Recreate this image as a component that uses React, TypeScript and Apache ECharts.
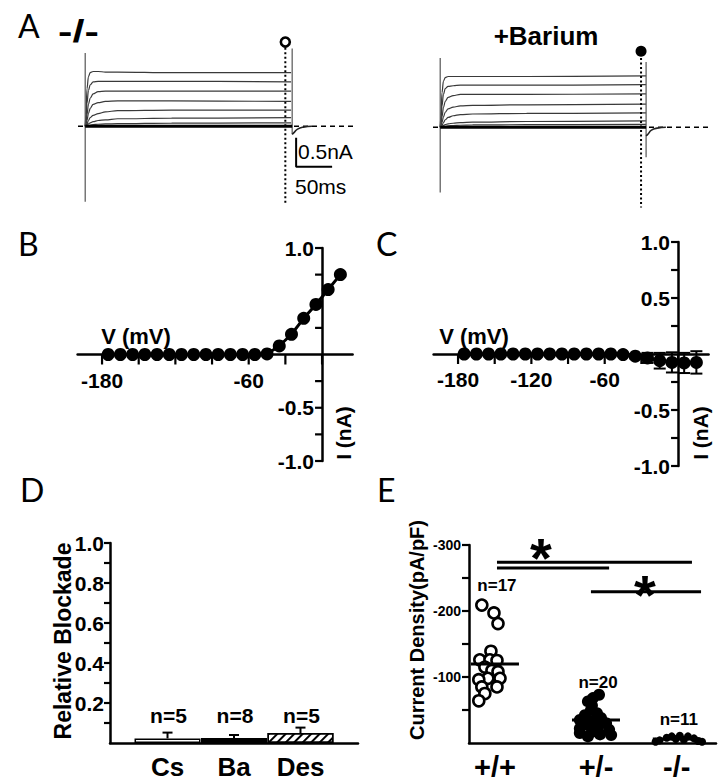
import React, { useEffect, useRef } from "react";
import * as echarts from "echarts";

// ---------- Panel A : current traces (ms, nA) ----------
const traceTimes = [0, 1, 2.5, 4.5, 7, 11, 18, 28, 45, 120, 286];
const tracesKO = [
  [0, 0.2, 0.65, 0.86, 0.93, 0.95, 0.95, 0.94, 0.94, 0.93, 0.93],
  [0, 0.1, 0.4, 0.62, 0.72, 0.77, 0.78, 0.78, 0.78, 0.78, 0.77],
  [0, 0.05, 0.2, 0.38, 0.49, 0.56, 0.6, 0.61, 0.61, 0.61, 0.61],
  [0, 0.03, 0.1, 0.22, 0.31, 0.38, 0.41, 0.43, 0.44, 0.44, 0.43],
  [0, 0.01, 0.04, 0.1, 0.15, 0.19, 0.22, 0.25, 0.27, 0.28, 0.28],
  [0, 0.005, 0.02, 0.04, 0.06, 0.08, 0.1, 0.11, 0.13, 0.14, 0.15],
  [0, 0.002, 0.008, 0.015, 0.02, 0.03, 0.035, 0.04, 0.045, 0.055, 0.06],
];
const tracesBa = [
  [0, 0.2, 0.6, 0.8, 0.86, 0.88, 0.88, 0.88, 0.88, 0.88, 0.89],
  [0, 0.1, 0.37, 0.57, 0.67, 0.71, 0.72, 0.73, 0.73, 0.73, 0.74],
  [0, 0.05, 0.18, 0.34, 0.45, 0.52, 0.55, 0.57, 0.57, 0.57, 0.58],
  [0, 0.03, 0.08, 0.18, 0.26, 0.32, 0.35, 0.37, 0.38, 0.39, 0.4],
  [0, 0.01, 0.03, 0.08, 0.13, 0.17, 0.2, 0.22, 0.23, 0.24, 0.25],
  [0, 0.005, 0.015, 0.03, 0.045, 0.06, 0.07, 0.08, 0.09, 0.1, 0.11],
  [0, 0.002, 0.006, 0.012, 0.018, 0.025, 0.03, 0.035, 0.04, 0.045, 0.05],
];
const tailTimes = [0, 2.5, 7.5, 15.5, 27.5];
const tailKO = [-0.14, -0.11, -0.05, -0.015, 0];
const tailBa = [-0.15, -0.12, -0.05, -0.015, 0];
const pulseEnd = [287.5, 286];
const startTransient = [[1.27, -1.31], [1.2, -1.13]];
const endTransient = [[1.35, -0.14], [1.13, -0.52]];
const probeTime = [278, 279];
const probeLevel = [1.46, 1.32];
const probeSpan = [[1.36, -1.37], [1.2, -1.39]];
const scaleBarT = [293, 343];
const scaleBarI = [-0.2, -0.7];

// ---------- Panels B, C : I-V ----------
const voltages = [-175, -165, -155, -145, -135, -125, -115, -105, -95, -85, -75, -65, -55, -45, -35, -25, -15, -5, 5, 15];
const currentB = [0, 0, 0, 0, 0, 0, 0, 0, 0, 0, 0, 0, 0, 0.005, 0.08, 0.19, 0.34, 0.47, 0.61, 0.75];
const currentC = [0, 0, 0, 0, 0, 0, 0, 0, 0, 0, 0, 0, 0, -0.005, -0.02, -0.035, -0.06, -0.075, -0.08, -0.075];
const semC = [0.005, 0.005, 0.005, 0.005, 0.005, 0.005, 0.005, 0.005, 0.005, 0.005, 0.005, 0.005, 0.005, 0.01, 0.02, 0.045, 0.07, 0.09, 0.09, 0.1];
const ivTickRange = [-180, 0];
const ivTickStep = 30;
const ivXTickVals = [-180, -150, -120, -90, -60, -30, 0];
const ivYTickVals = [-1, -0.75, -0.5, -0.25, 0.25, 0.5, 0.75, 1];
const ivLabelsB = [-180, -60];
const ivLabelsC = [-180, -120, -60];
const ivYLabelsB = [1, -0.5, -1];
const ivYLabelsC = [1, 0.5, -0.5, -1];
const ivXRange = [-200, 25];
const ivYRange = [-1, 1];

// ---------- Panel D : relative blockade ----------
const blockCats = ["Cs", "Ba", "Des"];
const blockPos = [1, 2, 3];
const blockMean = [0.023, 0.025, 0.05];
const blockSem = [0.029, 0.015, 0.027];
const blockN = [5, 8, 5];
const blockNLabelY = 0.14;
const blockXRange = [0.135, 3.865];
const blockYTickVals = [0.1, 0.2, 0.3, 0.4, 0.5, 0.6, 0.7, 0.8, 0.9, 1.0];

// ---------- Panel E : current density ----------
const genotypes = ["+/+", "+/-", "-/-"];
const genoPos = [1, 2, 2.8];
const genoN = [17, 20, 11];
const nLabelE = [-239, -92, -35];
const densWT = [-209, -197, -181, -139, -126, -126, -125, -115, -110, -108, -98, -98, -96, -85, -85, -75, -64];
const jitWT = [-0.13, -0.01, 0.03, -0.04, -0.15, -0.05, 0.02, -0.1, -0.03, 0.03, -0.07, 0.05, -0.16, -0.13, 0.02, -0.1, -0.16];
const densHet = [-73, -68, -63, -57, -50, -45, -42, -38, -35, -33, -30, -28, -25, -22, -20, -17, -15, -13, -12, -10];
const jitHet = [0.03, -0.03, -0.08, -0.04, -0.05, 0.01, -0.11, 0.05, -0.16, -0.03, 0.1, -0.09, 0.02, -0.16, 0.13, -0.04, -0.16, 0.04, 0.15, -0.08];
const densKO = [-11, -10, -10, -8, -7, -6, -5, -4, -3, -2, -2];
const jitKO = [0.03, -0.05, 0.11, -0.1, 0.17, -0.01, 0.07, -0.17, 0.21, -0.21, 0.25];
const densXRange = [0.743, 3.188];
const densYTickVals = [-300, -250, -200, -150, -100, -50];
const sigLines = [[1.02, 2.95, -274], [1.02, 2.13, -265], [1.95, 3.04, -229]];
const sigStars = [[1.455, -298], [2.485, -242]];

const FONT = '"Liberation Sans", Arial, sans-serif';
const LETTER = 'Lato, "Open Sans", sans-serif';

const gridB = { left: 77.6, top: 248, width: 275, height: 213 };
const gridC = { left: 433.6, top: 242, width: 275, height: 224 };

function mean(a: number[]) {
  return a.reduce((s, v) => s + v, 0) / a.length;
}
function near(list: number[], v: number) {
  return list.some((x) => Math.abs(x - v) < 1e-6);
}

// ticks drawn from the axis scales (x ticks hang down, y ticks point left)
function tickSeries(axisIdx: number, values: number[], dir: "x" | "y", anchor: number, len: number) {
  return {
    type: "custom", xAxisIndex: axisIdx, yAxisIndex: axisIdx, silent: true, z: 3,
    data: values.map((v) => (dir === "x" ? [v, anchor] : [anchor, v])),
    encode: { x: 0, y: 1 },
    renderItem: (params: any, api: any) => {
      const p = api.coord([api.value(0), api.value(1)]);
      const shape = dir === "x"
        ? { x1: p[0], y1: p[1], x2: p[0], y2: p[1] + len }
        : { x1: p[0] - len, y1: p[1], x2: p[0], y2: p[1] };
      return { type: "line", shape, style: { stroke: "#000", lineWidth: 2.2 } };
    },
  };
}

function buildOption() {
  const axisLine = { show: true, onZero: false, lineStyle: { color: "#000", width: 2.5 } };
  const labelBase = { show: true, color: "#000", fontFamily: FONT, fontWeight: "bold" };
  const hiddenX = (g: number) => ({ type: "value", gridIndex: g, min: -10, max: 372, show: false });
  const hiddenY = (g: number, range = [-1.4, 1.6]) => ({ type: "value", gridIndex: g, min: range[0], max: range[1], show: false });

  // I-V axes cross at the origin: shift them from the grid edges
  const pxPerMv = (g: any) => g.width / (ivXRange[1] - ivXRange[0]);
  const zeroOffsetX = (g: any) => (0 - ivXRange[0]) * pxPerMv(g);
  const zeroOffsetY = (g: any) => g.height * (0 - ivYRange[0]) / (ivYRange[1] - ivYRange[0]);
  const tickGrid = (g: any) => ({
    left: g.left + (ivTickRange[0] - ivXRange[0]) * pxPerMv(g),
    top: g.top,
    width: (ivTickRange[1] - ivTickRange[0]) * pxPerMv(g),
    height: g.height,
  });

  const ivXLine = (gi: number, g: any) => ({
    type: "value", gridIndex: gi, min: ivXRange[0], max: ivXRange[1],
    position: "bottom", offset: -zeroOffsetY(g),
    axisLine, axisTick: { show: false }, axisLabel: { show: false }, splitLine: { show: false },
  });
  const ivXLabels = (gi: number, g: any, labels: number[]) => ({
    type: "value", gridIndex: gi, min: ivTickRange[0], max: ivTickRange[1], interval: ivTickStep,
    position: "bottom", offset: -zeroOffsetY(g),
    axisLine: { show: false }, axisTick: { show: false },
    axisLabel: { ...labelBase, margin: 15, fontSize: 21, formatter: (v: number) => (near(labels, v) ? String(v) : "") },
    splitLine: { show: false },
  });
  const ivY = (gi: number, g: any, labels: number[]) => ({
    type: "value", gridIndex: gi, min: ivYRange[0], max: ivYRange[1], interval: 0.5,
    position: "left", offset: -zeroOffsetX(g),
    axisLine, axisTick: { show: false },
    axisLabel: { ...labelBase, margin: 8, fontSize: 21, formatter: (v: number) => (near(labels, v) ? v.toFixed(1) : "") },
    splitLine: { show: false },
  });

  const series: any[] = [];
  const lineBase = { type: "line", showSymbol: false, symbol: "none", silent: true };

  // ---- Panel A
  [tracesKO, tracesBa].forEach((traces, p) => {
    const ax = { xAxisIndex: p, yAxisIndex: p };
    series.push({ ...lineBase, ...ax, data: [[-10, 0], [372, 0]], lineStyle: { color: "#000", width: 1.6, type: [5, 4] }, z: 2 });
    traces.forEach((tr) => {
      series.push({
        ...lineBase, ...ax,
        data: traceTimes.map((t, i) => [t, tr[i]]),
        smooth: 0.35, smoothMonotone: "x",
        lineStyle: { color: "#3a3a3a", width: 1.2 }, z: 3,
      });
    });
    series.push({ ...lineBase, ...ax, data: [[0, 0], [pulseEnd[p], 0]], lineStyle: { color: "#000", width: 2.8 }, z: 4 });
    series.push({ ...lineBase, ...ax, data: [[0, startTransient[p][0]], [0, startTransient[p][1]]], lineStyle: { color: "#555", width: 1.2 }, z: 3 });
    series.push({ ...lineBase, ...ax, data: [[pulseEnd[p], endTransient[p][0]], [pulseEnd[p], endTransient[p][1]]], lineStyle: { color: "#555", width: 1.2 }, z: 3 });
    const tail = p === 0 ? tailKO : tailBa;
    series.push({ ...lineBase, ...ax, data: tailTimes.map((d, i) => [pulseEnd[p] + d, tail[i]]), smooth: 0.5, lineStyle: { color: "#222", width: 1.6 }, z: 4 });
    series.push({ ...lineBase, ...ax, data: [[probeTime[p], probeSpan[p][0]], [probeTime[p], probeSpan[p][1]]], lineStyle: { color: "#000", width: 2, type: [2, 2.5] }, z: 5 });
    series.push({
      type: "scatter", ...ax, silent: true,
      data: [[probeTime[p], probeLevel[p]]],
      symbol: "circle",
      symbolSize: p === 0 ? 9 : 11,
      itemStyle: p === 0 ? { color: "#fff", borderColor: "#000", borderWidth: 2.6, opacity: 1 } : { color: "#000", opacity: 1 },
      z: 6,
    });
  });
  series.push({
    ...lineBase, xAxisIndex: 0, yAxisIndex: 0,
    data: [[scaleBarT[0], scaleBarI[0]], [scaleBarT[0], scaleBarI[1]], [scaleBarT[1], scaleBarI[1]]],
    lineStyle: { color: "#000", width: 2 }, z: 5,
  });

  // ---- Panels B & C ticks
  series.push(tickSeries(2, ivXTickVals, "x", 0, 10));
  series.push(tickSeries(2, ivYTickVals, "y", 0, 7));
  series.push(tickSeries(3, ivXTickVals, "x", 0, 10));
  series.push(tickSeries(3, ivYTickVals, "y", 0, 7));

  // ---- Panel B
  series.push({
    type: "line", xAxisIndex: 2, yAxisIndex: 2,
    data: voltages.map((v, i) => [v, currentB[i]]),
    symbol: "circle", symbolSize: 13, showSymbol: true,
    itemStyle: { color: "#000" }, lineStyle: { color: "#000", width: 3 }, z: 5,
  });

  // ---- Panel C
  series.push({
    type: "custom", xAxisIndex: 3, yAxisIndex: 3,
    data: voltages.map((v, i) => [v, currentC[i], semC[i]]),
    encode: { x: 0, y: 1 },
    renderItem: (params: any, api: any) => {
      const x = api.value(0), y = api.value(1), e = api.value(2);
      const t = api.coord([x, y + e]);
      const b = api.coord([x, y - e]);
      const hw = 6;
      const st = { stroke: "#000", lineWidth: 2 };
      return {
        type: "group",
        children: [
          { type: "line", shape: { x1: t[0], y1: t[1], x2: b[0], y2: b[1] }, style: st },
          { type: "line", shape: { x1: t[0] - hw, y1: t[1], x2: t[0] + hw, y2: t[1] }, style: st },
          { type: "line", shape: { x1: b[0] - hw, y1: b[1], x2: b[0] + hw, y2: b[1] }, style: st },
        ],
      };
    },
    z: 4,
  });
  series.push({
    type: "line", xAxisIndex: 3, yAxisIndex: 3,
    data: voltages.map((v, i) => [v, currentC[i]]),
    symbol: "circle", symbolSize: 13, showSymbol: true,
    itemStyle: { color: "#000" }, lineStyle: { color: "#000", width: 3 }, z: 5,
  });

  // ---- Panel D
  const barStyles: Record<string, any> = {
    Cs: { color: "#fff", borderColor: "#000", borderWidth: 1.5 },
    Ba: { color: "#000", borderColor: "#000", borderWidth: 1.5 },
    Des: {
      color: "#fff", borderColor: "#000", borderWidth: 1.5,
      decal: { symbol: "rect", symbolSize: 1, dashArrayX: [1, 0], dashArrayY: [1.6, 3.2], rotation: -Math.PI / 4, color: "#000", backgroundColor: "#fff" },
    },
  };
  series.push(tickSeries(6, blockYTickVals, "y", blockXRange[0], 6));
  series.push({
    type: "bar", xAxisIndex: 6, yAxisIndex: 6, barWidth: 66,
    data: blockCats.map((c, i) => ({ value: [blockPos[i], blockMean[i]], itemStyle: barStyles[c] })),
    z: 3,
  });
  series.push({
    type: "custom", xAxisIndex: 6, yAxisIndex: 6,
    data: blockPos.map((p, i) => [p, blockMean[i], blockSem[i]]),
    encode: { x: 0, y: 1 },
    renderItem: (params: any, api: any) => {
      const x = api.value(0), y = api.value(1), e = api.value(2);
      const t = api.coord([x, y + e]);
      const b = api.coord([x, y]);
      const st = { stroke: "#000", lineWidth: 2 };
      return {
        type: "group",
        children: [
          { type: "line", shape: { x1: t[0], y1: t[1], x2: b[0], y2: b[1] }, style: st },
          { type: "line", shape: { x1: t[0] - 5, y1: t[1], x2: t[0] + 5, y2: t[1] }, style: st },
        ],
      };
    },
    z: 5,
  });
  series.push({
    type: "custom", xAxisIndex: 6, yAxisIndex: 6,
    data: blockPos.map((p, i) => [p, blockNLabelY, blockN[i]]),
    encode: { x: 0, y: 1 },
    renderItem: (params: any, api: any) => {
      const c = api.coord([api.value(0), api.value(1)]);
      return {
        type: "text", x: c[0] + 1, y: c[1],
        style: { text: "n=" + api.value(2), font: `bold 21px ${FONT}`, fill: "#000", textAlign: "center", textVerticalAlign: "middle" },
      };
    },
    z: 5,
  });

  // ---- Panel E
  const groups = [
    { vals: densWT, jit: jitWT },
    { vals: densHet, jit: jitHet },
    { vals: densKO, jit: jitKO },
  ];
  const E = { xAxisIndex: 7, yAxisIndex: 7 };
  series.push(tickSeries(7, densYTickVals, "y", densXRange[0], 7));
  groups.forEach((g, k) => {
    series.push({
      type: "scatter", ...E, silent: true,
      data: g.vals.map((v, i) => [genoPos[k] + g.jit[i], v]),
      symbol: "circle",
      symbolSize: k === 0 ? 11 : k === 1 ? 12 : 8,
      itemStyle: k === 0 ? { color: "#fff", borderColor: "#000", borderWidth: 2.6, opacity: 1 } : { color: "#000", opacity: 1 },
      z: 4,
    });
  });
  series.push({
    type: "custom", ...E,
    data: groups.map((g, k) => [genoPos[k], mean(g.vals)]),
    encode: { x: 0, y: 1 },
    renderItem: (params: any, api: any) => {
      const c = api.coord([api.value(0), api.value(1)]);
      return { type: "line", shape: { x1: c[0] - 24, y1: c[1], x2: c[0] + 24, y2: c[1] }, style: { stroke: "#000", lineWidth: 3 } };
    },
    z: 6,
  });
  series.push({
    type: "custom", ...E,
    data: sigLines,
    encode: { x: 0, y: 2 },
    renderItem: (params: any, api: any) => {
      const a = api.coord([api.value(0), api.value(2)]);
      const b = api.coord([api.value(1), api.value(2)]);
      return { type: "line", shape: { x1: a[0], y1: a[1], x2: b[0], y2: b[1] }, style: { stroke: "#000", lineWidth: 3 } };
    },
    z: 5,
  });
  series.push({
    type: "custom", ...E,
    data: sigStars,
    encode: { x: 0, y: 1 },
    renderItem: (params: any, api: any) => {
      const c = api.coord([api.value(0), api.value(1)]);
      return {
        type: "text", x: c[0], y: c[1] + 11,
        style: { text: "*", font: `bold 56px ${FONT}`, fill: "#000", textAlign: "center", textVerticalAlign: "middle" },
      };
    },
    z: 5,
  });
  series.push({
    type: "custom", ...E,
    data: genoPos.map((p, k) => [p, nLabelE[k], genoN[k]]),
    encode: { x: 0, y: 1 },
    renderItem: (params: any, api: any) => {
      const c = api.coord([api.value(0), api.value(1)]);
      return {
        type: "text", x: c[0] + 2, y: c[1],
        style: { text: "n=" + api.value(2), font: `bold 17px ${FONT}`, fill: "#000", textAlign: "center", textVerticalAlign: "middle" },
      };
    },
    z: 5,
  });

  const txt = (text: string, x: number, y: number, font: string, align = "left", rotation = 0, extra: any = {}) => ({
    type: "text", x, y, rotation, silent: true, ...extra,
    style: { text, font, fill: "#000", textAlign: align, textVerticalAlign: "middle" },
  });

  return {
    animation: false,
    backgroundColor: "#fff",
    textStyle: { fontFamily: FONT },
    grid: [
      { left: 78, top: 34, width: 275, height: 173 }, // 0 A -/-
      { left: 433, top: 35, width: 275, height: 173 }, // 1 A +Barium
      gridB, // 2 B
      gridC, // 3 C
      tickGrid(gridB), // 4 B voltage labels
      tickGrid(gridC), // 5 C voltage labels
      { left: 110, top: 543, width: 248, height: 200 }, // 6 D
      { left: 469, top: 545, width: 247, height: 198 }, // 7 E
    ],
    xAxis: [
      hiddenX(0),
      hiddenX(1),
      ivXLine(2, gridB),
      ivXLine(3, gridC),
      ivXLabels(4, gridB, ivLabelsB),
      ivXLabels(5, gridC, ivLabelsC),
      {
        type: "value", gridIndex: 6, min: blockXRange[0], max: blockXRange[1],
        axisLine, axisTick: { show: false }, splitLine: { show: false },
        axisLabel: { ...labelBase, customValues: blockPos, margin: 11, fontSize: 26, formatter: (v: number) => blockCats[blockPos.indexOf(v)] ?? "" },
      },
      {
        type: "value", gridIndex: 7, min: densXRange[0], max: densXRange[1],
        axisLine, axisTick: { show: false }, splitLine: { show: false },
        axisLabel: { ...labelBase, customValues: genoPos, margin: 9, fontSize: 29, formatter: (v: number) => genotypes[genoPos.indexOf(v)] ?? "" },
      },
    ],
    yAxis: [
      hiddenY(0),
      hiddenY(1),
      ivY(2, gridB, ivYLabelsB),
      ivY(3, gridC, ivYLabelsC),
      hiddenY(4, ivYRange),
      hiddenY(5, ivYRange),
      {
        type: "value", gridIndex: 6, min: 0, max: 1, interval: 0.2,
        axisLine, axisTick: { show: false },
        axisLabel: { ...labelBase, margin: 6, fontSize: 21, formatter: (v: number) => (v === 0 ? "" : v.toFixed(1)) },
        splitLine: { show: false },
      },
      {
        type: "value", gridIndex: 7, min: -300, max: 0, interval: 100, inverse: true,
        axisLine, axisTick: { show: false },
        axisLabel: { ...labelBase, margin: 8, fontSize: 14, formatter: (v: number) => (v === 0 ? "" : String(v)) },
        splitLine: { show: false },
      },
    ],
    graphic: [
      txt("A", 18, 25, `normal 32px ${LETTER}`),
      txt("-/-", 58, 31, `bold 32px ${FONT}`, "left", 0, { scaleX: 1.35 }),
      txt("+Barium", 546, 36, `bold 26px ${FONT}`, "center"),
      txt("0.5nA", 298, 151, `normal 21px ${FONT}`),
      txt("50ms", 295, 186, `normal 21px ${FONT}`),
      txt("B", 18, 243, `normal 32px ${LETTER}`),
      txt("C", 376, 243, `normal 32px ${LETTER}`),
      txt("D", 20, 489, `normal 32px ${LETTER}`),
      txt("E", 377, 489, `normal 32px ${LETTER}`),
      txt("V (mV)", 136, 336, `bold 22px ${FONT}`, "center"),
      txt("V (mV)", 474, 336, `bold 22px ${FONT}`, "center"),
      txt("I (nA)", 343, 433, `bold 21px ${FONT}`, "center", Math.PI / 2),
      txt("I (nA)", 700, 433, `bold 21px ${FONT}`, "center", Math.PI / 2),
      txt("Relative Blockade", 63, 641, `bold 23px ${FONT}`, "center", Math.PI / 2),
      txt("Current Density(pA/pF)", 417, 630, `bold 20px ${FONT}`, "center", Math.PI / 2),
    ],
    series,
  };
}

export default function App() {
  const ref = useRef<HTMLDivElement>(null);
  useEffect(() => {
    if (!ref.current) return;
    const chart = echarts.init(ref.current, null, { renderer: "svg" });
    chart.setOption(buildOption() as any);
    return () => chart.dispose();
  }, []);
  return (
    <div
      ref={ref}
      style={{ position: "absolute", left: 0, top: 0, width: 728, height: 782, background: "#fff" }}
    />
  );
}
